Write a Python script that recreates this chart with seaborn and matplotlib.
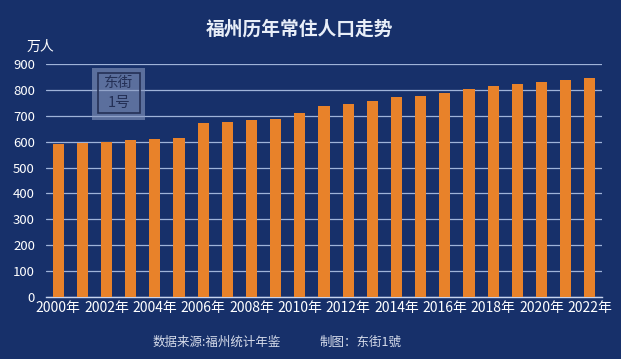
import matplotlib
matplotlib.use("Agg")
import matplotlib.pyplot as plt
import seaborn as sns
import pandas as pd
from matplotlib.patches import Rectangle

years = [str(y) for y in range(2000, 2023)]
population = [590, 593, 600, 605, 609, 613, 671, 675, 682, 686,
              712, 736, 747, 759, 774, 778, 787, 805, 816, 824,
              832, 840, 845]
yticks = list(range(0, 1000, 100))

bg = "#17306a"
bar_color = "#e8822a"

sns.set_theme(style="dark")
plt.rcParams['font.family'] = ['Noto Sans CJK SC', 'DejaVu Sans']

df = pd.DataFrame({"year": years, "pop": population})

fig = plt.figure(figsize=(6.21, 3.59), dpi=100, facecolor=bg)
ax = fig.add_axes([46/621, 1 - 297/359, 556/621, 233/359])
ax.set_facecolor(bg)

sns.barplot(data=df, x="year", y="pop", color=bar_color, width=0.46,
            saturation=1, linewidth=0, ax=ax, zorder=3)

ax.set_ylim(0, 900)
ax.set_yticks(yticks)
ax.set_yticklabels([str(v) for v in yticks], color="white", fontsize=9.5)
xt = list(range(0, len(years), 2))
ax.set_xticks(xt)
ax.set_xticklabels([years[i] + "年" for i in xt], color="white", fontsize=10)
ax.tick_params(axis="both", length=0, pad=3)
ax.tick_params(axis="y", pad=8)
ax.set_xlabel("")
ax.set_ylabel("")
ax.grid(axis="y", color="#9fb3d9", linewidth=0.9, zorder=0)
ax.grid(axis="x", visible=False)
for s in ["top", "right", "left"]:
    ax.spines[s].set_visible(False)
ax.spines["bottom"].set_color("#c8d4ee")
ax.spines["bottom"].set_linewidth(1)

fig.text(0.483, 1 - 29/359, "福州历年常住人口走势", color="#e8eef8", fontsize=13.5,
         fontweight="heavy", ha="center", va="center")
fig.text(40/621, 1 - 47/359, "万人", color="white", fontsize=10,
         ha="center", va="center")
fig.text(0.245, 1 - 342/359, "数据来源:福州统计年鉴", color="#d6dcea", fontsize=9,
         ha="left", va="center")
fig.text(0.515, 1 - 342/359, "制图：东街1號", color="#d6dcea", fontsize=9,
         ha="left", va="center")

# watermark
fig.patches.append(Rectangle((92/621, 1 - 120/359), 53/621, 52/359,
                             transform=fig.transFigure, facecolor="#8a9ac0",
                             alpha=0.6, edgecolor="none", zorder=5))
fig.patches.append(Rectangle((98/621, 1 - 113/359), 42/621, 40/359,
                             transform=fig.transFigure, facecolor="none",
                             edgecolor="#243056", linewidth=1.2, zorder=6))
fig.text(119/621, 1 - 83/359, "东街", color="#243056", fontsize=10.5,
         ha="center", va="center", zorder=7)
fig.text(119/621, 1 - 103/359, "1号", color="#243056", fontsize=10.5,
         ha="center", va="center", zorder=7)

fig.savefig("out.png", dpi=100, facecolor=bg)
